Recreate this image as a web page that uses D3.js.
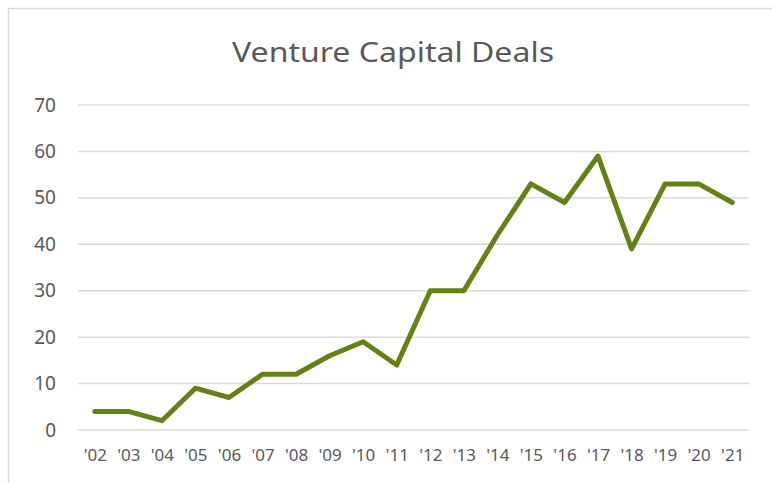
<!DOCTYPE html>
<html>
<head>
<meta charset="utf-8">
<script src="https://cdn.jsdelivr.net/npm/d3@7"></script>
<style>
  body { margin: 0; background: #fff; }
  svg { display: block; }
  text { font-family: "Noto Sans", "Open Sans", sans-serif; fill: #595959; }
</style>
</head>
<body>
<svg id="chart" width="772" height="483"></svg>
<script>
// Data
const years = ["'02", "'03", "'04", "'05", "'06", "'07", "'08", "'09", "'10", "'11",
               "'12", "'13", "'14", "'15", "'16", "'17", "'18", "'19", "'20", "'21"];
const deals = [4, 4, 2, 9, 7, 12, 12, 16, 19, 14, 30, 30, 42, 53, 49, 59, 39, 53, 53, 49];
const yTicks = [0, 10, 20, 30, 40, 50, 60, 70];
const chartTitle = 'Venture Capital Deals';

const margin = { top: 105, right: 23, bottom: 53, left: 78 },
    visWidth = 772, visHeight = 483,
    width = visWidth - margin.left - margin.right,
    height = visHeight - margin.top - margin.bottom;

const svg = d3.select('#chart');

// Chart area border (cut off at right/bottom like the reference)
svg.append('rect')
    .attr('x', 8.5).attr('y', 8.5)
    .attr('width', 800).attr('height', 500)
    .attr('fill', '#fff')
    .attr('stroke', '#d9d9d9')
    .attr('stroke-width', 1.5);

const x = d3.scalePoint().domain(years).range([0, width]).padding(0.5);
const y = d3.scaleLinear().domain([0, 70]).range([height, 0]);

const g = svg.append('g').attr('transform', 'translate(' + margin.left + ',' + margin.top + ')');

// Gridlines
g.append('g').attr('class', 'grid')
    .selectAll('line').data(yTicks).join('line')
        .attr('x1', 0).attr('x2', width)
        .attr('y1', d => y(d)).attr('y2', d => y(d))
        .attr('stroke', '#d9d9d9')
        .attr('stroke-width', 1.5);

// Y axis labels
const yAxis = g.append('g').attr('class', 'y-axis')
    .call(d3.axisLeft(y).tickValues(yTicks).tickSize(0).tickPadding(22));
yAxis.select('.domain').remove();
yAxis.selectAll('text').style('font-size', '19px').attr('fill', '#595959');

// X axis labels
const xAxis = g.append('g').attr('class', 'x-axis')
    .attr('transform', 'translate(0,' + height + ')')
    .call(d3.axisBottom(x).tickSize(0).tickPadding(19));
xAxis.select('.domain').remove();
xAxis.selectAll('text').style('font-size', '17px').attr('fill', '#595959');

// Line
const line = d3.line().x((d, i) => x(years[i])).y(d => y(d));
g.append('path')
    .datum(deals)
    .attr('d', line)
    .attr('fill', 'none')
    .attr('stroke', '#638115')
    .attr('stroke-width', 5)
    .attr('stroke-linejoin', 'round')
    .attr('stroke-linecap', 'round');

// Title
svg.append('text')
    .attr('x', 393).attr('y', 62)
    .attr('text-anchor', 'middle')
    .style('font-size', '28px')
    .attr('textLength', 322)
    .attr('lengthAdjust', 'spacingAndGlyphs')
    .text(chartTitle);
</script>
</body>
</html>
